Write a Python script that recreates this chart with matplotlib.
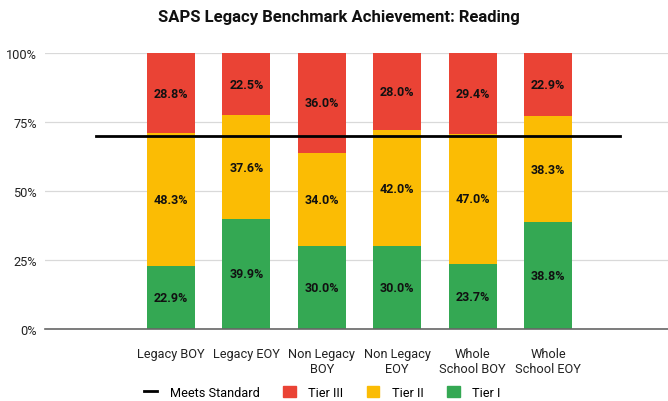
import numpy as np
import matplotlib.pyplot as plt
from matplotlib.lines import Line2D
from matplotlib.patches import Patch

plt.rcParams['font.family'] = ['Roboto', 'DejaVu Sans']

categories = ['Legacy BOY', 'Legacy EOY', 'Non Legacy\nBOY', 'Non Legacy\nEOY',
              'Whole\nSchool BOY', 'Whole\nSchool EOY']
tier1 = [22.9, 39.9, 30.0, 30.0, 23.7, 38.8]
tier2 = [48.3, 37.6, 34.0, 42.0, 47.0, 38.3]
tier3 = [28.8, 22.5, 36.0, 28.0, 29.4, 22.9]
meets_standard = 70

red = '#EA4335'
yellow = '#FBBC04'
green = '#34A853'

t1 = np.array(tier1)
t2 = np.array(tier2)
t3 = np.array(tier3)
total = t1 + t2 + t3
p1 = t1 / total * 100
p2 = t2 / total * 100
p3 = t3 / total * 100

fig = plt.figure(figsize=(6.68, 4.02), dpi=100)
ax = fig.add_axes([45 / 668, 72 / 402, 623 / 668, 275.7 / 402])

x = np.arange(1, len(categories) + 1)
w = 0.635
ax.bar(x, p1, w, color=green, zorder=2)
ax.bar(x, p2, w, bottom=p1, color=yellow, zorder=2)
ax.bar(x, p3, w, bottom=p1 + p2, color=red, zorder=2)

for i in range(len(x)):
    ax.text(x[i], p1[i] / 2, f'{tier1[i]:.1f}%', ha='center', va='center',
            fontsize=9, fontweight='bold', color='#111111', zorder=4)
    ax.text(x[i], p1[i] + p2[i] / 2, f'{tier2[i]:.1f}%', ha='center', va='center',
            fontsize=9, fontweight='bold', color='#111111', zorder=4)
    ax.text(x[i], p1[i] + p2[i] + p3[i] / 2, f'{tier3[i]:.1f}%', ha='center', va='center',
            fontsize=9, fontweight='bold', color='#111111', zorder=4)

ax.plot([0, 6.95], [meets_standard, meets_standard], color='black', lw=2, zorder=3)

ax.set_xlim(-0.67, 7.59)
ax.set_ylim(0, 100)
ax.set_yticks([0, 25, 50, 75, 100])
ax.set_yticklabels(['0%', '25%', '50%', '75%', '100%'])
ax.set_xticks(x)
ax.set_xticklabels(categories)
ax.grid(axis='y', color='#d9d9d9', lw=0.9, zorder=0)
for s in ['top', 'right', 'left']:
    ax.spines[s].set_visible(False)
ax.spines['bottom'].set_color('#666666')
ax.spines['bottom'].set_linewidth(1.2)
ax.spines['bottom'].set_zorder(3)
ax.tick_params(axis='both', length=0, labelsize=9.2, colors='#222222')
ax.tick_params(axis='x', pad=13)
ax.tick_params(axis='y', pad=6)

fig.suptitle('SAPS Legacy Benchmark Achievement: Reading', x=0.508, y=0.975,
             fontsize=12, fontweight='bold', color='#111111')

handles = [Line2D([0], [0], color='black', lw=2),
           Patch(color=red), Patch(color=yellow), Patch(color=green)]
labels = ['Meets Standard', 'Tier III', 'Tier II', 'Tier I']
fig.legend(handles, labels, loc='center', ncol=4, frameon=False,
           bbox_to_anchor=(0.483, 0.022), fontsize=9.2, handlelength=1.0,
           handleheight=1.0, columnspacing=1.8, handletextpad=1.0,
           borderpad=0)

fig.savefig('out.png', dpi=100)
